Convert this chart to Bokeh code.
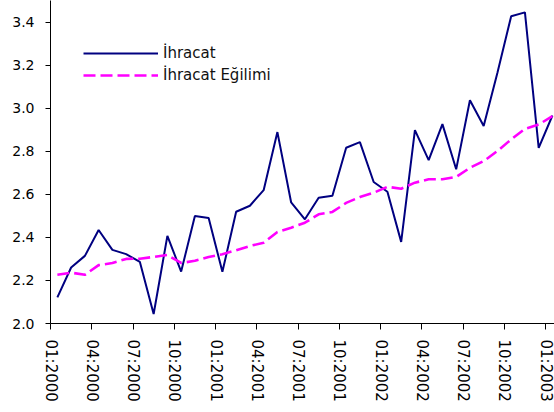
from bokeh.plotting import figure
from bokeh.models import Range1d, FixedTicker, Legend, LegendItem, NumeralTickFormatter, ColumnDataSource
from bokeh.embed import file_html
from bokeh.resources import INLINE

# ---- data ----
tick_labels = ["01:2000", "04:2000", "07:2000", "10:2000",
               "01:2001", "04:2001", "07:2001", "10:2001",
               "01:2002", "04:2002", "07:2002", "10:2002",
               "01:2003"]

ihracat = [2.121, 2.260, 2.314, 2.434, 2.342, 2.322, 2.286, 2.044, 2.407, 2.241,
           2.499, 2.490, 2.240, 2.519, 2.547, 2.619, 2.889, 2.562, 2.484, 2.584,
           2.593, 2.816, 2.842, 2.657, 2.612, 2.379, 2.898, 2.759, 2.926, 2.716,
           3.037, 2.917, 3.164, 3.427, 3.445, 2.816, 2.966]

egilim = [2.226, 2.236, 2.226, 2.271, 2.281, 2.300, 2.301, 2.309, 2.318, 2.281,
          2.291, 2.309, 2.322, 2.340, 2.360, 2.375, 2.425, 2.445, 2.468, 2.507,
          2.518, 2.560, 2.587, 2.607, 2.635, 2.626, 2.654, 2.670, 2.670, 2.681,
          2.723, 2.754, 2.801, 2.855, 2.904, 2.924, 2.963]

y_ticks = [2.0, 2.2, 2.4, 2.6, 2.8, 3.0, 3.2, 3.4]

# month index positions (points centred in each month slot)
x = [i + 0.5 for i in range(len(ihracat))]
src = ColumnDataSource(dict(x=x, ihracat=ihracat, egilim=egilim))

FONT = "DejaVu Sans"

p = figure(width=554, height=412,
           x_range=Range1d(0, 36.65), y_range=Range1d(2.0, 3.5),
           min_border_left=50, min_border_right=0, min_border_top=0, min_border_bottom=89,
           toolbar_location=None, output_backend="svg")
p.outline_line_color = None
p.xgrid.visible = False
p.ygrid.visible = False
p.background_fill_color = "white"

r1 = p.line("x", "ihracat", source=src, line_color="#000080", line_width=2)
r2 = p.line("x", "egilim", source=src, line_color="#FF00FF", line_width=2.6, line_dash="12 5")

# axes
xa = p.xaxis[0]
tick_pos = [3 * i for i in range(len(tick_labels))]
xa.ticker = FixedTicker(ticks=tick_pos)
xa.major_label_overrides = {t: lab for t, lab in zip(tick_pos, tick_labels)}
xa.major_label_orientation = "vertical"
xa.major_tick_in = 0
xa.major_tick_out = 6
xa.minor_tick_in = 0
xa.minor_tick_out = 0
xa.major_label_standoff = 10
xa.major_label_text_font = FONT
xa.major_label_text_font_size = "15px"
xa.major_label_text_color = "black"
xa.axis_line_color = "black"
xa.major_tick_line_color = "black"

ya = p.yaxis[0]
ya.ticker = FixedTicker(ticks=y_ticks)
ya.formatter = NumeralTickFormatter(format="0.0")
ya.major_tick_in = 0
ya.major_tick_out = 5
ya.minor_tick_in = 0
ya.minor_tick_out = 0
ya.major_label_standoff = 11
ya.major_label_text_font = FONT
ya.major_label_text_font_size = "14px"
ya.major_label_text_color = "black"
ya.axis_line_color = "black"
ya.major_tick_line_color = "black"

legend = Legend(items=[LegendItem(label="İhracat", renderers=[r1]),
                       LegendItem(label="İhracat Eğilimi", renderers=[r2])],
                location=(33, 238), padding=0, spacing=2, margin=0,
                glyph_width=75, glyph_height=20, label_height=20,
                label_standoff=5, border_line_color=None,
                background_fill_alpha=0,
                label_text_font=FONT, label_text_font_size="15px",
                label_text_color="#111111")
p.add_layout(legend)

open("out.html", "w").write(file_html(p, INLINE))
